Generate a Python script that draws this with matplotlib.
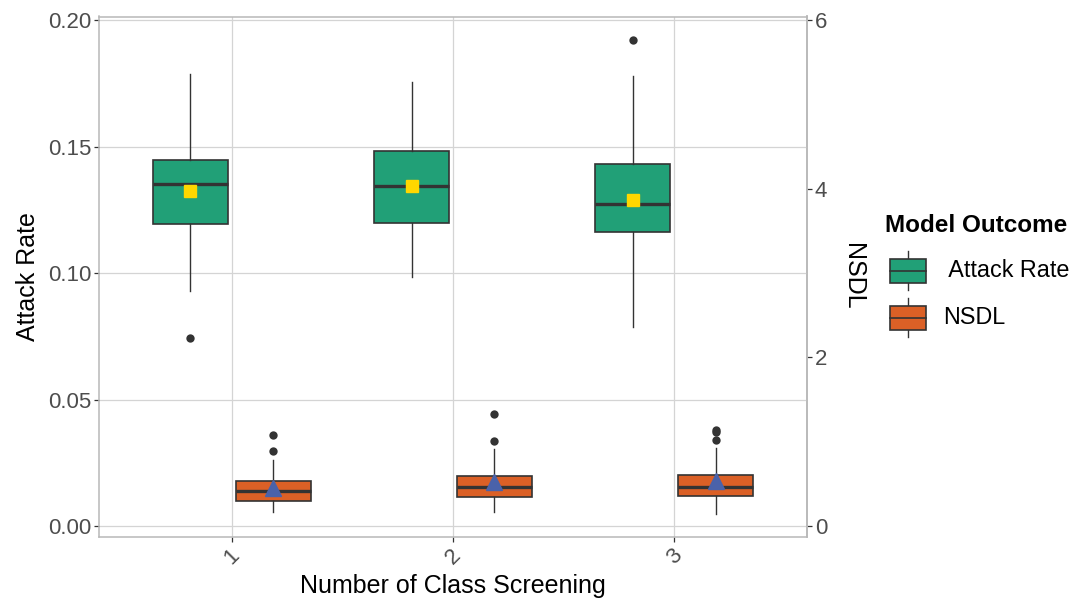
import matplotlib
matplotlib.use('Agg')
import matplotlib.pyplot as plt
from matplotlib.patches import Rectangle

plt.rcParams['font.family'] = ['Liberation Sans', 'DejaVu Sans']

# screening groups on the x axis
groups = ['1', '2', '3']

# Attack Rate boxplot stats (left axis)
ar_q1 = [0.1195, 0.1198, 0.1161]
ar_med = [0.1351, 0.1344, 0.1274]
ar_q3 = [0.1448, 0.1484, 0.1432]
ar_whislo = [0.0930, 0.0984, 0.0787]
ar_whishi = [0.1785, 0.1757, 0.1777]
ar_mean = [0.1324, 0.1344, 0.1289]
ar_fliers = [[0.0742], [], [0.1922]]

# NSDL boxplot stats (right axis units)
nsdl_q1 = [0.300, 0.345, 0.358]
nsdl_med = [0.416, 0.466, 0.457]
nsdl_q3 = [0.528, 0.590, 0.603]
nsdl_whislo = [0.166, 0.166, 0.137]
nsdl_whishi = [0.777, 0.915, 0.927]
nsdl_mean = [0.453, 0.520, 0.536]
nsdl_fliers = [[0.886, 1.081], [1.010, 1.332], [1.020, 1.120, 1.143]]

scale = 30.0  # NSDL = Attack Rate scale * 30

green = '#21A077'
orange = '#DB6026'
dark = '#333333'

fig = plt.figure(figsize=(10.89, 6.0), dpi=100)
ax = fig.add_axes([99 / 1089, 1 - 537 / 600, (807 - 99) / 1089, (537 - 16.5) / 600])


def make_stats(q1, med, q3, lo, hi, fl, f=1.0):
    out = []
    for i in range(len(q1)):
        out.append(dict(q1=q1[i] / f, med=med[i] / f, q3=q3[i] / f,
                        whislo=lo[i] / f, whishi=hi[i] / f,
                        fliers=[v / f for v in fl[i]]))
    return out


xs = list(range(1, len(groups) + 1))
off = 0.1875
bw = 0.3375

common = dict(widths=bw, patch_artist=True, showcaps=False, manage_ticks=False,
              whiskerprops=dict(color=dark, linewidth=1.0),
              medianprops=dict(color=dark, linewidth=2.4),
              flierprops=dict(marker='o', markerfacecolor=dark, markeredgecolor='none',
                              markersize=6), zorder=3)

ax.bxp(make_stats(ar_q1, ar_med, ar_q3, ar_whislo, ar_whishi, ar_fliers),
       positions=[x - off for x in xs],
       boxprops=dict(facecolor=green, edgecolor=dark, linewidth=1.2), **common)
ax.bxp(make_stats(nsdl_q1, nsdl_med, nsdl_q3, nsdl_whislo, nsdl_whishi, nsdl_fliers, scale),
       positions=[x + off for x in xs],
       boxprops=dict(facecolor=orange, edgecolor=dark, linewidth=1.2), **common)

ax.plot([x - off for x in xs], ar_mean, linestyle='none', marker='s', color='#FFD700',
        markersize=8.5, zorder=4)
ax.plot([x + off for x in xs], [m / scale for m in nsdl_mean], linestyle='none', marker='^',
        color='#4A62AA', markersize=11, zorder=4)

ax.set_xlim(0.4, 3.6)
ax.set_ylim(-0.00435, 0.2014)
ax.set_xticks(xs)
ax.set_xticklabels(groups, rotation=45, ha='center', va='top')
ax.set_yticks([0, 0.05, 0.10, 0.15, 0.20])
ax.set_yticklabels(['0.00', '0.05', '0.10', '0.15', '0.20'])
ax.grid(True, color='#D4D4D4', linewidth=0.9, zorder=0)
ax.set_axisbelow(True)
for s in ax.spines.values():
    s.set_color('#B8B8B8')
    s.set_linewidth(1.1)
ax.tick_params(colors=dark, labelcolor='#4D4D4D', labelsize=16, length=3.5, width=0.9, pad=2)
ax.set_xlabel('Number of Class Screening', fontsize=18, labelpad=4)
ax.set_ylabel('Attack Rate', fontsize=18, labelpad=6)

ax2 = ax.secondary_yaxis('right', functions=(lambda y: y * scale, lambda y: y / scale))
ax2.set_yticks([0, 2, 4, 6])
ax2.spines['right'].set_color('#B8B8B8')
ax2.spines['right'].set_linewidth(1.1)
ax2.tick_params(colors=dark, labelcolor='#4D4D4D', labelsize=16, length=3.5, width=0.9, pad=2)
ax2.set_ylabel('NSDL', fontsize=18, rotation=-90, va='bottom', labelpad=10)

# legend drawn in pixel coordinates
lg = fig.add_axes([860 / 1089, 1 - 350 / 600, 229 / 1089, 150 / 600])
lg.set_xlim(860, 1089)
lg.set_ylim(350, 200)
lg.axis('off')
lg.text(885, 226, 'Model Outcome', fontsize=17.5, fontweight='bold', ha='left', va='center')
keys = [(' Attack Rate', green, 271), ('NSDL', orange, 318)]
for lab, col, yc in keys:
    lg.plot([907.5, 907.5], [yc - 19.5, yc + 19.5], color=dark, linewidth=1.0)
    lg.add_patch(Rectangle((889.5, yc - 12), 36, 24, facecolor=col, edgecolor=dark, linewidth=1.2,
                           zorder=3))
    lg.plot([889.5, 925.5], [yc, yc], color=dark, linewidth=1.2, zorder=4)
    lg.text(943, yc, lab, fontsize=16.8, ha='left', va='center')

fig.savefig('out.png', dpi=100)
